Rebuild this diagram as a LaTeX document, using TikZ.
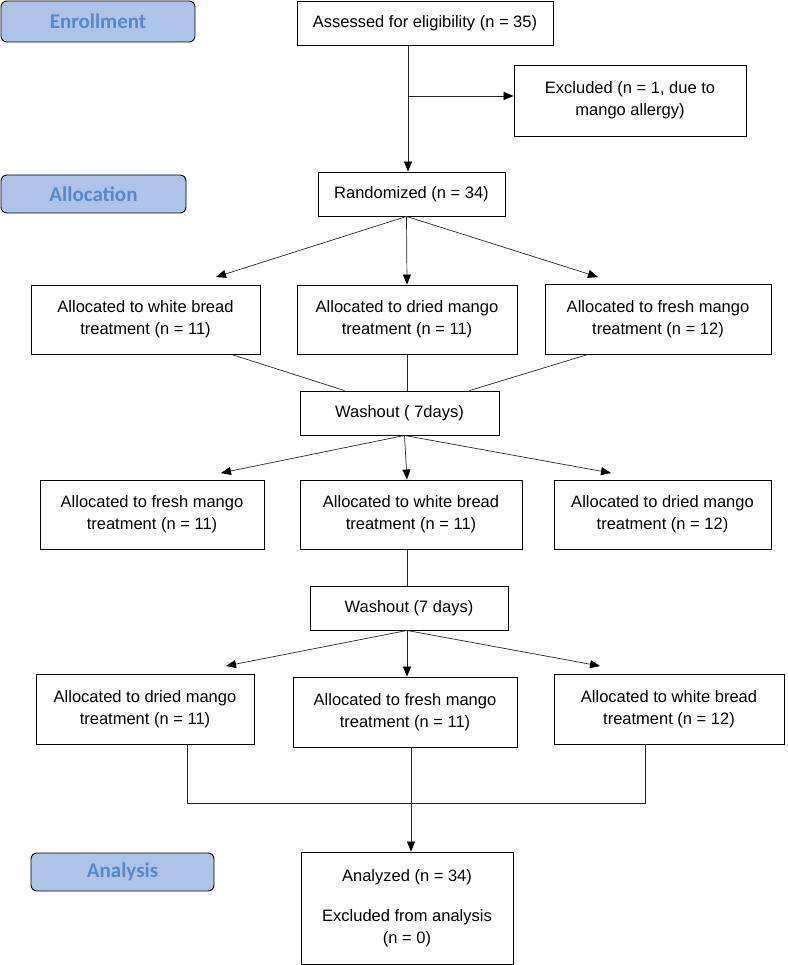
\documentclass[tikz,border=0pt]{standalone}
\usepackage{fontspec}
\setmainfont{Liberation Sans}
\newfontfamily\stagefont{Carlito}
\usetikzlibrary{arrows.meta}
\definecolor{stagefill}{RGB}{174,195,232}
\definecolor{stagetext}{RGB}{84,138,200}

\begin{document}
\begin{tikzpicture}[x=1pt, y=-1pt,
  box/.style={draw, line width=0.9pt, align=center, inner sep=0pt,
    font=\fontsize{16.5}{22}\selectfont},
  stage/.style={draw, line width=0.9pt, rounded corners=6pt, fill=stagefill,
    text=stagetext, inner sep=0pt, font=\stagefont\bfseries\fontsize{21}{24}\selectfont},
  line/.style={draw=black!85, line width=0.7pt},
  arr/.style={line, -{Triangle[length=10pt,width=8pt,color=black]}}]

  \useasboundingbox (0,0) rectangle (787,965);

  % stages on the left
  \node[stage, minimum width=194pt, minimum height=41pt] (enroll) at (98,21.5) {Enrollment};
  \node[stage, minimum width=185pt, minimum height=38pt] (alloc) at (93.5,194) {Allocation};
  \node[stage, minimum width=183pt, minimum height=38pt] (analys) at (122.5,872) {Analysis};

  % enrollment
  \node[box, minimum width=256pt, minimum height=44pt] (assess) at (425,23) {Assessed for eligibility (n = 35)};
  \node[box, minimum width=232pt, minimum height=71pt] (excl) at (630,100.5) {Excluded (n = 1, due to\\mango allergy)};
  \node[box, minimum width=187pt, minimum height=44pt] (rand) at (411.5,194) {Randomized (n = 34)};

  % first period
  \node[box, minimum width=229pt, minimum height=69pt] (a1) at (145.5,319.5) {Allocated to white bread\\treatment (n = 11)};
  \node[box, minimum width=220pt, minimum height=69pt] (b1) at (407,319.5) {Allocated to dried mango\\treatment (n = 11)};
  \node[box, minimum width=226pt, minimum height=70pt] (c1) at (658,319) {Allocated to fresh mango\\treatment (n = 12)};
  \node[box, minimum width=199pt, minimum height=44pt] (wash1) at (399.5,413) {Washout ( 7days)};

  % second period
  \node[box, minimum width=224pt, minimum height=69pt] (a2) at (152,514.5) {Allocated to fresh mango\\treatment (n = 11)};
  \node[box, minimum width=222pt, minimum height=69pt] (b2) at (411,514.5) {Allocated to white bread\\treatment (n = 11)};
  \node[box, minimum width=217pt, minimum height=69pt] (c2) at (662.5,514.5) {Allocated to dried mango\\treatment (n = 12)};
  \node[box, minimum width=198pt, minimum height=44pt] (wash2) at (409,608) {Washout (7 days)};

  % third period
  \node[box, minimum width=218pt, minimum height=70pt] (a3) at (145,709) {Allocated to dried mango\\treatment (n = 11)};
  \node[box, minimum width=224pt, minimum height=70pt] (b3) at (405,712) {Allocated to fresh mango\\treatment (n = 11)};
  \node[box, minimum width=230pt, minimum height=70pt] (c3) at (669,709) {Allocated to white bread\\treatment (n = 12)};

  % analysis
  \node[box, minimum width=212pt, minimum height=112pt] (ana) at (407,908) {Analyzed (n = 34)\\[18pt]Excluded from analysis\\(n = 0)};

  \coordinate (j1) at (408,96);

  \coordinate (t1) at (216,277);
  \coordinate (t2) at (598,277);
  \coordinate (t3) at (221,473);
  \coordinate (t4) at (611,473);
  \coordinate (t5) at (226,666);
  \coordinate (t6) at (600,666);

  \coordinate (m1) at (187,803);
  \coordinate (m2) at (645,803);

%  \draw (j1) node {j1};
%  \draw (m1) node {m1};
%  \draw (m2) node {m2};

  \draw[arr] (assess.south -| j1) -- (rand.north -| j1);
  \draw[arr] (j1) -- (excl.west |- j1);

  \draw[arr] ([xshift=-5pt]rand.south) -- (t1);
  \draw[arr] ([xshift=-5pt]rand.south) -- (b1.north);
  \draw[arr] ([xshift=-5pt]rand.south) -- (t2);

  \draw[line] ([xshift=86pt]a1.south) -- ([xshift=-55pt]wash1.north);
  \draw[line] (b1.south) -- (wash1.north -| b1.south);
  \draw[line] ([xshift=-70pt]c1.south) -- ([xshift=70pt]wash1.north);

  \draw[arr] ([xshift=5pt]wash1.south) -- (t3);
  \draw[arr] ([xshift=5pt]wash1.south) -- (b2.north -| b1.south);
  \draw[arr] ([xshift=5pt]wash1.south) -- (t4);

  \draw[line] (b2.south -| b1.south) -- (wash2.north -| b1.south);

  \draw[arr] (wash2.south -| b1.south) -- (t5);
  \draw[arr] (wash2.south -| b1.south) -- (b3.north -| b1.south);
  \draw[arr] (wash2.south -| b1.south) -- (t6);

  \draw[line] (a3.south -| m1) -- (m1) -- (m2) -- (c3.south -| m2);
  \draw[arr] ([xshift=6pt]b3.south) -- ([xshift=6pt]b3.south |- ana.north);

\end{tikzpicture}
\end{document}
